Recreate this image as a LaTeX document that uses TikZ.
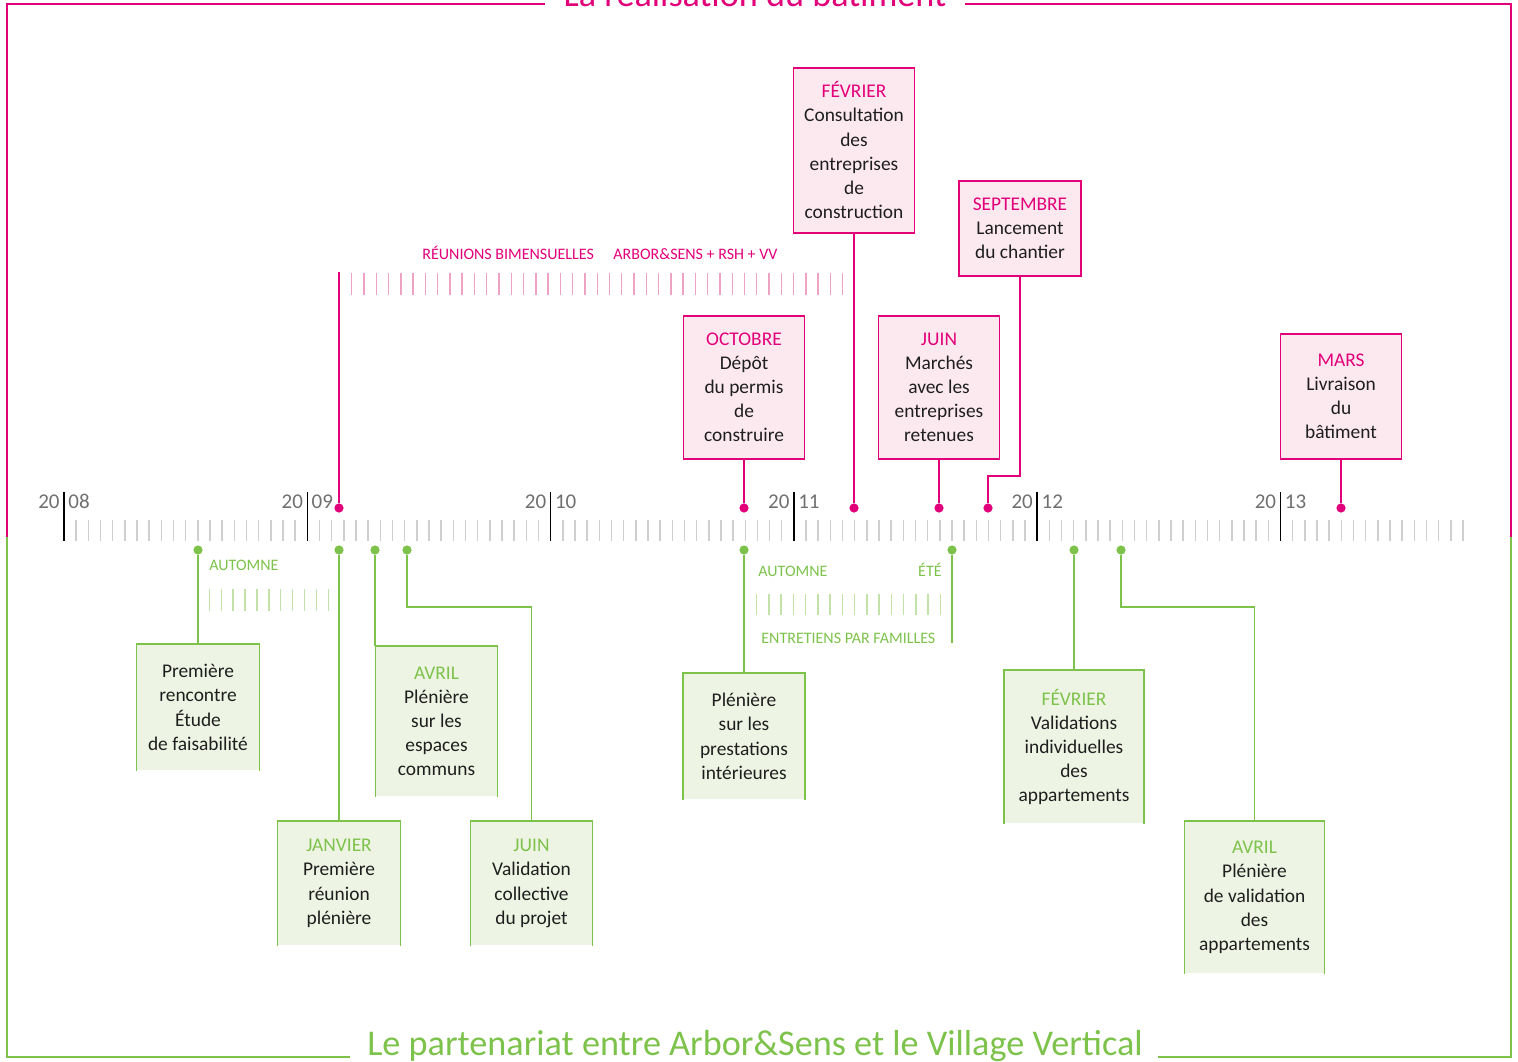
\documentclass[tikz,border=0pt]{standalone}
\usepackage{fontspec}
\setmainfont{Carlito}
\usepackage{xcolor}
\usepackage{tikz}
\usetikzlibrary{positioning}
\definecolor{kpink}{HTML}{E2007A}
\definecolor{kpinkfill}{HTML}{FCE9EF}
\definecolor{kpinktick}{HTML}{EFA3C4}
\definecolor{kgreen}{HTML}{7DC24B}
\definecolor{kgreenfill}{HTML}{EEF4E3}
\definecolor{kgreentick}{HTML}{C3E2A8}
\definecolor{kgraytick}{HTML}{CFCFCF}
\definecolor{kyear}{HTML}{6F6F6F}
\definecolor{ktext}{HTML}{1E1E1E}
\newcommand\boxfont{\fontsize{9.7}{12.1}\selectfont}
\newcommand\capfont{\fontsize{8}{9}\selectfont}
\newcommand\yearfont{\fontsize{10.5}{12}\selectfont}
\newcommand\titlefont{\fontsize{18.1}{22}\selectfont}

\begin{document}
\begin{tikzpicture}[x=0.5pt, y=-0.5pt,
  pinkbox/.style={draw=kpink, line width=0.75pt, fill=kpinkfill, inner sep=0pt,
    align=center, anchor=north, font=\boxfont, text=ktext},
  greenbox/.style={fill=kgreenfill, inner sep=0pt, align=center,
    anchor=north, font=\boxfont, text=ktext},
  pinkdot/.style={circle, fill=kpink, inner sep=0pt, minimum size=4.6pt},
  greendot/.style={circle, fill=kgreen, inner sep=0pt, minimum size=4.6pt},
  pinkwire/.style={draw=kpink, line width=0.7pt},
  greenwire/.style={draw=kgreen, line width=0.7pt},
  yearlbl/.style={font=\yearfont, text=kyear, inner sep=0pt},
  pinkcap/.style={font=\capfont, text=kpink, inner sep=0pt, anchor=base west},
  greencap/.style={font=\capfont, text=kgreen, inner sep=0pt, anchor=base west}]

  \useasboundingbox (0,0) rectangle (1518,1061);
  \clip (0,0) rectangle (1518,1061);

  %% Frame and titles
  \draw[kpink, line width=1pt] (545,4) -- (7,4) -- (7,537);
  \draw[kpink, line width=1pt] (965,4) -- (1511,4) -- (1511,537);
  \draw[kgreen, line width=1pt] (7,537) -- (7,1057) -- (350,1057);
  \draw[kgreen, line width=1pt] (1158,1057) -- (1511,1057) -- (1511,537);
  \node[font=\titlefont, text=kpink, anchor=base, inner sep=0pt] (toptitle) at (755,6.5)
    {La réalisation du bâtiment};
  \node[font=\titlefont, text=kgreen, anchor=base, inner sep=0pt] (bottitle) at (755,1055)
    {Le partenariat entre Arbor\&Sens et le Village Vertical};

  %% Time axis
  \foreach \i in {0,...,115}{
    \draw[kgraytick, line width=0.75pt] ({64+\i*12.165},520) -- ({64+\i*12.165},541);
  }
  \foreach \k/\yy in {0/08,1/09,2/10,3/11,4/12,5/13}{
    \draw[black, line width=0.75pt] ({64+\k*243.3},492) -- ({64+\k*243.3},541);
    \node[yearlbl, anchor=base east] (ya\yy) at ({64+\k*243.3-4},508) {20};
    \node[yearlbl, anchor=base west] (yb\yy) at ({64+\k*243.3+4},508) {\yy};
  }

  %% Dots
  \node[pinkdot] (pd1) at (339,508) {};
  \node[pinkdot] (pd2) at (744,508) {};
  \node[pinkdot] (pd3) at (854,508) {};
  \node[pinkdot] (pd4) at (939,508) {};
  \node[pinkdot] (pd5) at (988,508) {};
  \node[pinkdot] (pd6) at (1341,508) {};
  \node[greendot] (gd1) at (198,550) {};
  \node[greendot] (gd2) at (339,550) {};
  \node[greendot] (gd3) at (375,550) {};
  \node[greendot] (gd4) at (407,550) {};
  \node[greendot] (gd5) at (744,550) {};
  \node[greendot] (gd6) at (952,550) {};
  \node[greendot] (gd7) at (1074,550) {};
  \node[greendot] (gd8) at (1121,550) {};

  %% Pink boxes
  \node[pinkbox, minimum width=60.5pt, minimum height=82.5pt] (fev) at (854,67)
    {\textcolor{kpink}{FÉVRIER}\\Consultation\\des\\entreprises\\de\\construction};
  \node[pinkbox, minimum width=61pt, minimum height=47.5pt] (sep) at (1020,180)
    {\textcolor{kpink}{SEPTEMBRE}\\Lancement\\du chantier};
  \node[pinkbox, minimum width=60.5pt, minimum height=71.5pt] (oct) at (744,315)
    {\textcolor{kpink}{OCTOBRE}\\Dépôt\\du permis\\de\\construire};
  \node[pinkbox, minimum width=60.5pt, minimum height=71.5pt] (juin) at (939,315)
    {\textcolor{kpink}{JUIN}\\Marchés\\avec les\\entreprises\\retenues};
  \node[pinkbox, minimum width=60.5pt, minimum height=62.5pt] (mars) at (1341,333)
    {\textcolor{kpink}{MARS}\\Livraison\\du\\bâtiment};

  %% Pink connectors
  \coordinate (reutop) at (339,272);
  \draw[pinkwire] (pd1) -- (reutop);
  \draw[pinkwire] (fev.south) -- (pd3);
  \coordinate (sepbend) at (988,476);
  \draw[pinkwire] (sep.south) |- (sepbend) -- (pd5);
  \draw[pinkwire] (oct.south) -- (pd2);
  \draw[pinkwire] (juin.south) -- (pd4);
  \draw[pinkwire] (mars.south) -- (pd6);

  %% Bimonthly meetings
  \foreach \i in {0,...,40}{
    \draw[kpinktick, line width=0.7pt] ({351.7+\i*12.275},272.5) -- ({351.7+\i*12.275},295);
  }
  \node[pinkcap] (reuA) at (422,259) {RÉUNIONS BIMENSUELLES};
  \node[pinkcap] (reuB) at (613,259) {ARBOR\&SENS + RSH + VV};

  %% Green boxes
  \node[greenbox, minimum width=61pt, minimum height=63pt] (prem) at (198,644)
    {Première\\rencontre\\Étude\\de faisabilité};
  \node[greenbox, minimum width=61pt, minimum height=62pt] (gjan) at (339,821)
    {\textcolor{kgreen}{JANVIER}\\Première\\réunion\\plénière};
  \node[greenbox, minimum width=60.5pt, minimum height=75pt] (gavra) at (436.5,646)
    {\textcolor{kgreen}{AVRIL}\\Plénière\\sur les\\espaces\\communs};
  \node[greenbox, minimum width=60.5pt, minimum height=62pt] (gjun) at (531.5,821)
    {\textcolor{kgreen}{JUIN}\\Validation\\collective\\du projet};
  \node[greenbox, minimum width=60.5pt, minimum height=63pt] (ple) at (744,673)
    {Plénière\\sur les\\prestations\\intérieures};
  \node[greenbox, minimum width=69.5pt, minimum height=76.5pt] (gfev) at (1074,670)
    {\textcolor{kgreen}{FÉVRIER}\\Validations\\individuelles\\des\\appartements};
  \node[greenbox, minimum width=69.5pt, minimum height=76pt] (gavrb) at (1254.5,821)
    {\textcolor{kgreen}{AVRIL}\\Plénière\\de validation\\des\\appartements};
  \foreach \b in {prem,gjan,gavra,gjun,ple,gfev,gavrb}{
    \draw[kgreen, line width=0.75pt] (\b.south west) -- (\b.north west) -- (\b.north east) -- (\b.south east);
  }

  %% Green connectors
  \draw[greenwire] (gd1) -- (prem.north);
  \draw[greenwire] (gd2) -- (gjan.north);
  \draw[greenwire] (gd3) -- (gd3 |- gavra.north);
  \coordinate (gjunbend) at (407,607);
  \draw[greenwire] (gd4) -- (gjunbend) -| (gjun.north);
  \draw[greenwire] (gd5) -- (ple.north);
  \coordinate (etebot) at (952,643);
  \draw[greenwire] (gd6) -- (etebot);
  \draw[greenwire] (gd7) -- (gfev.north);
  \coordinate (gavrbend) at (1121,607);
  \draw[greenwire] (gd8) -- (gavrbend) -| (gavrb.north);

  %% Interview periods
  \foreach \i in {0,...,10}{
    \draw[kgreentick, line width=0.7pt] ({209.3+\i*11.9},589) -- ({209.3+\i*11.9},611);
  }
  \node[greencap] (aut1) at (209,570.5) {AUTOMNE};
  \foreach \i in {0,...,15}{
    \draw[kgreentick, line width=0.7pt] ({756.7+\i*12.24},594) -- ({756.7+\i*12.24},615);
  }
  \node[greencap] (aut2) at (758,576) {AUTOMNE};
  \node[greencap, anchor=base east] (ete) at (942,576) {ÉTÉ};
  \node[greencap] (entr) at (761,643) {ENTRETIENS PAR FAMILLES};

\end{tikzpicture}
\end{document}
